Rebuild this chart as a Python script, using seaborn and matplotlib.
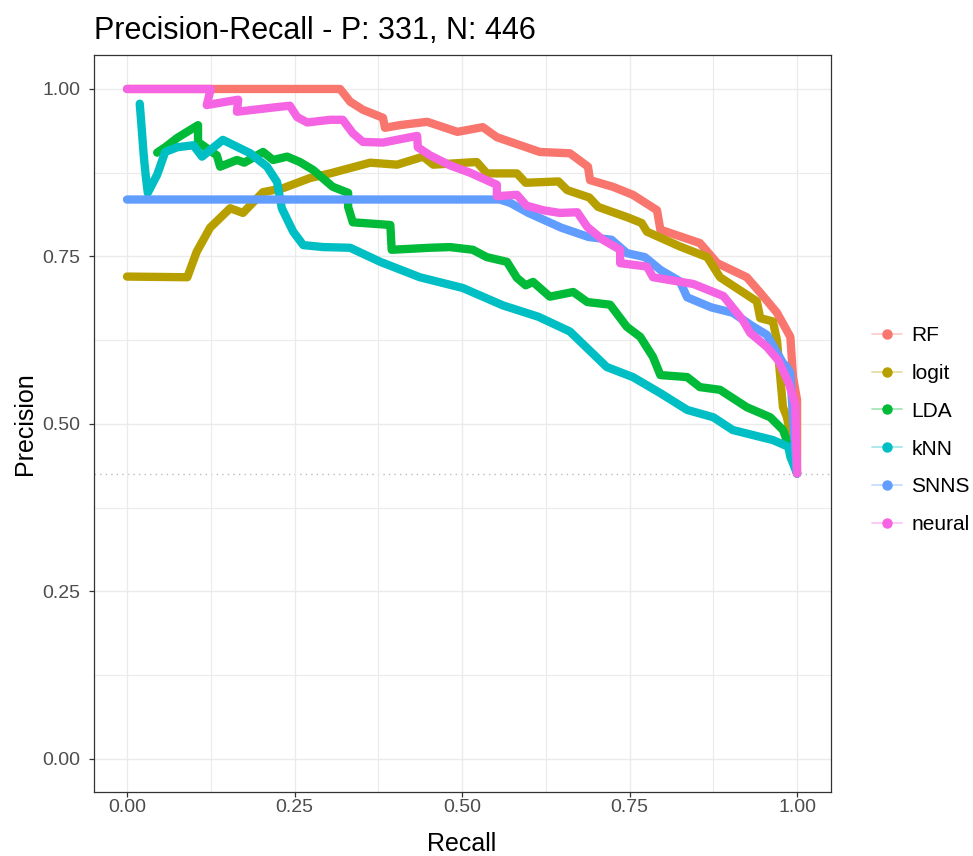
import numpy as np
import pandas as pd
import matplotlib
matplotlib.use("Agg")
import matplotlib.pyplot as plt
from matplotlib.lines import Line2D
from matplotlib.colors import to_rgba
import seaborn as sns

# ---------------- data ----------------
models = ["RF", "logit", "LDA", "kNN", "SNNS", "neural"]
colors = ["#F8766D", "#B79F00", "#00BA38", "#00BFC4", "#619CFF", "#F564E3"]

rf_recall = [0.0, 0.318, 0.333, 0.352, 0.382, 0.385, 0.407, 0.448, 0.493, 0.531, 0.552,
             0.616, 0.661, 0.688, 0.691, 0.725, 0.755, 0.791, 0.796, 0.855, 0.881, 0.925,
             0.945, 0.970, 0.990, 0.994, 1.0, 1.0]
rf_precision = [1.0, 1.0, 0.981, 0.969, 0.957, 0.942, 0.946, 0.951, 0.936, 0.943, 0.928,
                0.906, 0.904, 0.884, 0.864, 0.854, 0.842, 0.819, 0.790, 0.770, 0.740, 0.719,
                0.696, 0.666, 0.630, 0.570, 0.536, 0.426]

logit_recall = [0.0, 0.09, 0.104, 0.124, 0.154, 0.173, 0.203, 0.233, 0.273, 0.303, 0.363,
                0.403, 0.442, 0.457, 0.522, 0.537, 0.582, 0.595, 0.644, 0.657, 0.690, 0.703,
                0.748, 0.768, 0.776, 0.825, 0.866, 0.885, 0.940, 0.945, 0.964, 0.970, 0.979,
                0.985, 1.0]
logit_precision = [0.72, 0.719, 0.757, 0.793, 0.822, 0.815, 0.846, 0.852, 0.867, 0.874, 0.890,
                   0.887, 0.899, 0.887, 0.891, 0.874, 0.874, 0.860, 0.862, 0.849, 0.838, 0.824,
                   0.808, 0.800, 0.787, 0.765, 0.749, 0.719, 0.683, 0.658, 0.653, 0.625, 0.525,
                   0.510, 0.426]

lda_recall = [0.045, 0.057, 0.075, 0.106, 0.106, 0.134, 0.139, 0.164, 0.175, 0.203, 0.218,
              0.239, 0.258, 0.278, 0.307, 0.330, 0.330, 0.337, 0.393, 0.395, 0.452, 0.482,
              0.516, 0.537, 0.567, 0.582, 0.595, 0.606, 0.631, 0.666, 0.687, 0.721, 0.746,
              0.766, 0.785, 0.796, 0.836, 0.855, 0.885, 0.925, 0.960, 0.979, 0.990, 1.0]
lda_precision = [0.905, 0.913, 0.927, 0.946, 0.921, 0.901, 0.884, 0.894, 0.890, 0.906, 0.894,
                 0.899, 0.891, 0.879, 0.854, 0.845, 0.824, 0.801, 0.797, 0.760, 0.763, 0.764,
                 0.760, 0.749, 0.742, 0.718, 0.707, 0.712, 0.690, 0.697, 0.682, 0.678, 0.645,
                 0.630, 0.600, 0.573, 0.570, 0.555, 0.551, 0.525, 0.510, 0.491, 0.461, 0.426]

knn_recall = [0.019, 0.022, 0.025, 0.028, 0.031, 0.045, 0.057, 0.075, 0.099, 0.112, 0.143,
              0.184, 0.209, 0.224, 0.231, 0.248, 0.263, 0.293, 0.333, 0.378, 0.437, 0.501,
              0.561, 0.614, 0.661, 0.716, 0.755, 0.796, 0.836, 0.875, 0.904, 0.964, 0.987,
              0.990, 1.0]
knn_precision = [0.978, 0.940, 0.900, 0.870, 0.845, 0.872, 0.906, 0.913, 0.916, 0.899, 0.924,
                 0.904, 0.884, 0.861, 0.822, 0.787, 0.767, 0.764, 0.763, 0.742, 0.719, 0.703,
                 0.677, 0.660, 0.638, 0.585, 0.570, 0.546, 0.521, 0.510, 0.491, 0.476, 0.466,
                 0.451, 0.426]

snns_recall = [0.0, 0.556, 0.572, 0.599, 0.648, 0.689, 0.723, 0.746, 0.773, 0.796, 0.825,
               0.836, 0.872, 0.904, 0.932, 0.955, 0.979, 0.985, 0.990, 0.994, 1.0]
snns_precision = [0.835, 0.835, 0.830, 0.815, 0.793, 0.779, 0.775, 0.755, 0.749, 0.730, 0.713,
                  0.689, 0.674, 0.666, 0.647, 0.633, 0.591, 0.585, 0.576, 0.506, 0.426]

neural_recall = [0.0, 0.125, 0.119, 0.166, 0.164, 0.224, 0.243, 0.254, 0.269, 0.303, 0.322,
                 0.337, 0.352, 0.382, 0.433, 0.434, 0.452, 0.482, 0.512, 0.552, 0.552, 0.582,
                 0.596, 0.621, 0.646, 0.672, 0.687, 0.710, 0.736, 0.736, 0.776, 0.785, 0.845,
                 0.890, 0.919, 0.930, 0.955, 0.972, 0.988, 0.997, 1.0]
neural_precision = [1.0, 1.0, 0.976, 0.984, 0.966, 0.973, 0.975, 0.958, 0.950, 0.954, 0.954,
                    0.934, 0.921, 0.920, 0.930, 0.913, 0.901, 0.886, 0.875, 0.857, 0.840, 0.842,
                    0.826, 0.819, 0.815, 0.816, 0.794, 0.775, 0.760, 0.740, 0.735, 0.719, 0.709,
                    0.691, 0.655, 0.636, 0.615, 0.595, 0.560, 0.530, 0.426]

baseline = 331 / (331 + 446)
title = "Precision-Recall - P: 331, N: 446"
x_ticks = [0.0, 0.25, 0.5, 0.75, 1.0]
y_ticks = [0.0, 0.25, 0.5, 0.75, 1.0]
tick_labels = ["0.00", "0.25", "0.50", "0.75", "1.00"]

series = {
    "RF": (rf_recall, rf_precision),
    "logit": (logit_recall, logit_precision),
    "LDA": (lda_recall, lda_precision),
    "kNN": (knn_recall, knn_precision),
    "SNNS": (snns_recall, snns_precision),
    "neural": (neural_recall, neural_precision),
}
frames = []
for m in models:
    r, p = series[m]
    frames.append(pd.DataFrame({"recall": r, "precision": p, "model": m}))
df = pd.concat(frames, ignore_index=True)

# ---------------- figure ----------------
sns.set_theme(style="white")
plt.rcParams["font.family"] = ["Liberation Sans", "DejaVu Sans"]

fig = plt.figure(figsize=(9.73, 8.56), dpi=100)
ax = fig.add_axes([0.0961, 0.0742, 0.7575, 0.861])

sns.lineplot(data=df, x="recall", y="precision", hue="model", hue_order=models,
             palette=colors, sort=False, estimator=None, units="model",
             linewidth=6.0, legend=False, ax=ax,
             solid_capstyle="round", solid_joinstyle="round")

ax.axhline(baseline, color="#BBBBBB", linestyle=(0, (1, 3)), linewidth=1.0, zorder=0.5)

ax.set_xlim(-0.05, 1.05)
ax.set_ylim(-0.05, 1.05)
ax.set_xticks(x_ticks)
ax.set_xticklabels(tick_labels)
ax.set_yticks(y_ticks)
ax.set_yticklabels(tick_labels)
ax.set_xticks([0.125, 0.375, 0.625, 0.875], minor=True)
ax.set_yticks([0.125, 0.375, 0.625, 0.875], minor=True)
ax.grid(which="major", color="#EBEBEB", linewidth=1.0)
ax.grid(which="minor", color="#EBEBEB", linewidth=0.8)
ax.set_axisbelow(True)
ax.tick_params(which="major", direction="out", length=3.5, width=0.9, color="#333333",
               labelcolor="#4D4D4D", labelsize=14, bottom=True, left=True)
ax.tick_params(axis="x", which="major", pad=1.5)
ax.tick_params(axis="y", which="major", pad=6.0)
ax.tick_params(which="minor", length=0, bottom=False, left=False)
for s in ax.spines.values():
    s.set_color("#333333")
    s.set_linewidth(0.9)

ax.set_xlabel("Recall", fontsize=18, color="black", labelpad=11)
ax.set_ylabel("Precision", fontsize=18, color="black", labelpad=4)
ax.set_title(title, loc="left", fontsize=22, color="black", pad=12)

handles = [Line2D([0], [0], color=to_rgba(c, 0.35), linewidth=1.3, marker="o",
                  markersize=6.5, markerfacecolor=c, markeredgecolor=c)
           for c in colors]
leg = fig.legend(handles, models, loc="center left", bbox_to_anchor=(0.896, 0.4975),
                 frameon=False, fontsize=15, handlelength=1.45, handletextpad=0.45,
                 labelspacing=0.9, borderaxespad=0, borderpad=0)
for t in leg.get_texts():
    t.set_color("black")

fig.savefig("out.png", dpi=100)
